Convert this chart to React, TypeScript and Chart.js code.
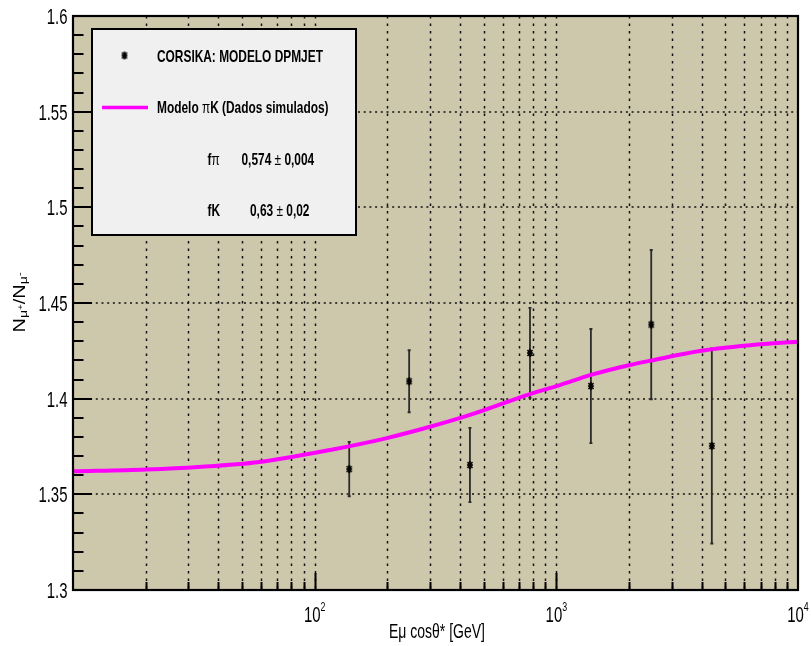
import React, { useEffect, useRef } from "react";
import { Chart, registerables } from "chart.js";

Chart.register(...registerables);

// CORSIKA (DPMJET) muon charge ratio per energy bin
const energyGeV = [139, 246, 439, 778, 1390, 2470, 4400];
const chargeRatio = [1.3632, 1.4091, 1.3653, 1.4239, 1.4066, 1.4387, 1.3753];
const ratioError = [0.0142, 0.0162, 0.0194, 0.0235, 0.0298, 0.039, 0.051];

// πK model (simulated data) curve
const modelEnergy = [10, 20, 33, 59, 116, 199, 300, 439, 778, 1035, 1390, 2014, 2460, 3926, 6950, 10000];
const modelRatio = [1.362, 1.363, 1.3643, 1.3669, 1.3732, 1.3794, 1.3853, 1.3915, 1.4024, 1.4071, 1.4124, 1.4176, 1.4199, 1.4249, 1.4284, 1.4298];

// axis ticks
const yMajorValues = [1.3, 1.35, 1.4, 1.45, 1.5, 1.55, 1.6];
const yMajorLabels = ["1.3", "1.35", "1.4", "1.45", "1.5", "1.55", "1.6"];
const xDecadeValues = [100, 1000, 10000];
const xDecadeExponents = ["2", "3", "4"];

// legend / fit text
const seriesLabel = "CORSIKA: MODELO DPMJET";
const modelLabelParts = ["Modelo ", "π", "K (Dados simulados)"];
const fitPiValue = ["0,574 ", "±", " 0,004"];
const fitKValue = ["0,63 ", "±", " 0,02"];

const FONT = "'Liberation Sans', Arial, Helvetica, sans-serif";
const KHAKI = "#cdc7ab";
const SQUEEZE = 0.68;

type Seg = { t: string; f: string; dy?: number };

function segsWidth(ctx: CanvasRenderingContext2D, segs: Seg[]) {
  let w = 0;
  for (const s of segs) {
    ctx.font = s.f;
    w += ctx.measureText(s.t).width;
  }
  return w;
}

function drawSegs(
  ctx: CanvasRenderingContext2D,
  segs: Seg[],
  x: number,
  y: number,
  align: "left" | "center" | "right",
  sx: number
) {
  ctx.save();
  const w = segsWidth(ctx, segs) * sx;
  const x0 = align === "center" ? x - w / 2 : align === "right" ? x - w : x;
  ctx.translate(x0, y);
  ctx.scale(sx, 1);
  ctx.textAlign = "left";
  ctx.textBaseline = "alphabetic";
  ctx.fillStyle = "#000";
  let cx = 0;
  for (const s of segs) {
    ctx.font = s.f;
    ctx.fillText(s.t, cx, s.dy || 0);
    cx += ctx.measureText(s.t).width;
  }
  ctx.restore();
}

function makeAsterisk(): HTMLCanvasElement {
  const c = document.createElement("canvas");
  c.width = 8;
  c.height = 10;
  const g = c.getContext("2d")!;
  g.strokeStyle = "#000";
  g.lineWidth = 1.6;
  g.beginPath();
  g.moveTo(4, 1); g.lineTo(4, 9);
  g.moveTo(1, 5); g.lineTo(7, 5);
  g.moveTo(1.5, 2); g.lineTo(6.5, 8);
  g.moveTo(6.5, 2); g.lineTo(1.5, 8);
  g.stroke();
  return c;
}

function makeRootStyle(marker: HTMLCanvasElement) {
  return {
    id: "rootStyle",
    beforeDraw(chart: any) {
      const { ctx, chartArea: a } = chart;
      ctx.save();
      ctx.fillStyle = "#fff";
      ctx.fillRect(0, 0, chart.width, chart.height);
      ctx.fillStyle = KHAKI;
      ctx.fillRect(a.left, a.top, a.right - a.left, a.bottom - a.top);
      ctx.restore();
    },
    beforeDatasetsDraw(chart: any) {
      const { ctx, chartArea: a, scales } = chart;
      const xs = scales.x, ys = scales.y;
      ctx.save();
      ctx.strokeStyle = "#111";
      // horizontal dotted grid
      ctx.lineWidth = 1.7;
      ctx.setLineDash([2, 3.7]);
      for (const v of yMajorValues.slice(1, -1)) {
        const y = Math.round(ys.getPixelForValue(v));
        ctx.beginPath();
        ctx.moveTo(a.left, y);
        ctx.lineTo(a.right, y);
        ctx.stroke();
      }
      // vertical dotted grid at every log tick
      ctx.lineWidth = 1.5;
      ctx.setLineDash([2.5, 5]);
      for (const d of [10, 100, 1000]) {
        for (let k = 1; k <= 9; k++) {
          const v = d * k;
          if (v <= 10) continue;
          const x = Math.round(xs.getPixelForValue(v)) + 0.5;
          ctx.beginPath();
          ctx.moveTo(x, a.top);
          ctx.lineTo(x, a.bottom);
          ctx.stroke();
        }
      }
      ctx.setLineDash([]);
      // error bars
      ctx.strokeStyle = "#2a2a2a";
      ctx.lineWidth = 1.8;
      energyGeV.forEach((e, i) => {
        const x = xs.getPixelForValue(e);
        const yTop = ys.getPixelForValue(chargeRatio[i] + ratioError[i]);
        const yBot = ys.getPixelForValue(chargeRatio[i] - ratioError[i]);
        ctx.beginPath();
        ctx.moveTo(x, yTop);
        ctx.lineTo(x, yBot);
        ctx.moveTo(x - 1.5, yTop);
        ctx.lineTo(x + 1.5, yTop);
        ctx.moveTo(x - 1.5, yBot);
        ctx.lineTo(x + 1.5, yBot);
        ctx.stroke();
      });
      ctx.restore();
    },
    afterDatasetsDraw(chart: any) {
      const { ctx, chartArea: a, scales } = chart;
      const xs = scales.x, ys = scales.y;
      ctx.save();
      ctx.strokeStyle = "#000";
      ctx.lineWidth = 2;
      // y ticks (inside, left edge)
      for (let i = 0; i <= 30; i++) {
        const v = 1.3 + i * 0.01;
        const y = Math.round(ys.getPixelForValue(v));
        const major = i % 5 === 0;
        ctx.beginPath();
        ctx.moveTo(a.left, y);
        ctx.lineTo(a.left + (major ? 19 : 10.5), y);
        ctx.stroke();
      }
      // x ticks (inside, bottom edge)
      for (const d of [10, 100, 1000]) {
        for (let k = 1; k <= 9; k++) {
          const v = d * k;
          if (v <= 10) continue;
          const x = Math.round(xs.getPixelForValue(v)) + 0.5;
          const major = k === 1;
          ctx.beginPath();
          ctx.moveTo(x, a.bottom);
          ctx.lineTo(x, a.bottom - (major ? 17 : 8));
          ctx.stroke();
        }
      }
      // frame
      ctx.lineWidth = 2.2;
      ctx.strokeRect(a.left, a.top, a.right - a.left, a.bottom - a.top);

      // y tick labels
      yMajorValues.forEach((v, i) => {
        const y = ys.getPixelForValue(v);
        drawSegs(ctx, [{ t: yMajorLabels[i], f: `22px ${FONT}` }], a.left - 5.5, y + 8, "right", SQUEEZE);
      });
      // x tick labels 10^n
      xDecadeValues.forEach((v, i) => {
        const x = xs.getPixelForValue(v);
        drawSegs(
          ctx,
          [
            { t: "10", f: `22px ${FONT}` },
            { t: xDecadeExponents[i], f: `13px ${FONT}`, dy: -11.5 },
          ],
          x,
          a.bottom + 32,
          "center",
          SQUEEZE
        );
      });
      // x title
      drawSegs(ctx, [{ t: "Eμ cosθ* [GeV]", f: `20px ${FONT}` }], 437, 638, "center", SQUEEZE + 0.02);

      // y title, rotated
      const ySegs: Seg[] = [
        { t: "N", f: `20px ${FONT}` },
        { t: "μ", f: `14px ${FONT}`, dy: 3 },
        { t: "+", f: `10px ${FONT}`, dy: -3 },
        { t: "/", f: `20px ${FONT}` },
        { t: "N", f: `20px ${FONT}` },
        { t: "μ", f: `14px ${FONT}`, dy: 3 },
        { t: "-", f: `11px ${FONT}`, dy: -3 },
      ];
      ctx.save();
      ctx.translate(25, 302.5);
      ctx.rotate(-Math.PI / 2);
      ctx.scale(1, 0.8);
      const tw = segsWidth(ctx, ySegs);
      ctx.fillStyle = "#000";
      ctx.textBaseline = "alphabetic";
      let cx = -tw / 2;
      for (const s of ySegs) {
        ctx.font = s.f;
        ctx.fillText(s.t, cx, s.dy || 0);
        cx += ctx.measureText(s.t).width;
      }
      ctx.restore();

      // legend box
      const lx = 92, ly = 29, lw = 264, lh = 206;
      ctx.fillStyle = "#f0f0f0";
      ctx.fillRect(lx, ly, lw, lh);
      ctx.lineWidth = 2;
      ctx.strokeStyle = "#000";
      ctx.strokeRect(lx, ly, lw, lh);

      ctx.drawImage(marker, 124.5 - marker.width / 2, 55.5 - marker.height / 2);
      const bold = `bold 17px ${FONT}`;
      const reg = `17px ${FONT}`;
      drawSegs(ctx, [{ t: seriesLabel, f: bold }], 157, 61.7, "left", 0.7);

      ctx.strokeStyle = "#ff00ff";
      ctx.lineWidth = 3.5;
      ctx.beginPath();
      ctx.moveTo(102, 107.5);
      ctx.lineTo(148, 107.5);
      ctx.stroke();
      drawSegs(
        ctx,
        [
          { t: modelLabelParts[0], f: bold },
          { t: modelLabelParts[1], f: reg },
          { t: modelLabelParts[2], f: bold },
        ],
        157,
        113.3,
        "left",
        0.7
      );

      drawSegs(ctx, [{ t: "f", f: bold }, { t: "π", f: reg }], 207.5, 165, "left", 0.7);
      drawSegs(
        ctx,
        [
          { t: fitPiValue[0], f: bold },
          { t: fitPiValue[1], f: reg },
          { t: fitPiValue[2], f: bold },
        ],
        241.5,
        165,
        "left",
        0.7
      );
      drawSegs(ctx, [{ t: "fK", f: bold }], 207.5, 216, "left", 0.7);
      drawSegs(
        ctx,
        [
          { t: fitKValue[0], f: bold },
          { t: fitKValue[1], f: reg },
          { t: fitKValue[2], f: bold },
        ],
        250,
        216,
        "left",
        0.7
      );
      ctx.restore();
    },
  };
}

export default function App() {
  const canvasRef = useRef<HTMLCanvasElement | null>(null);

  useEffect(() => {
    const canvas = canvasRef.current;
    if (!canvas) return;
    const marker = makeAsterisk();
    const chart = new Chart(canvas, {
      type: "scatter",
      data: {
        datasets: [
          {
            label: seriesLabel,
            data: energyGeV.map((e, i) => ({ x: e, y: chargeRatio[i] })),
            pointStyle: marker as any,
            pointRadius: 4,
            showLine: false,
          },
          {
            type: "line",
            label: modelLabelParts.join(""),
            data: modelEnergy.map((e, i) => ({ x: e, y: modelRatio[i] })),
            borderColor: "#ff00ff",
            borderWidth: 4,
            pointRadius: 0,
            cubicInterpolationMode: "monotone",
            fill: false,
          } as any,
        ],
      },
      options: {
        animation: false,
        responsive: false,
        devicePixelRatio: 1,
        events: [],
        layout: { padding: { left: 73, top: 16, right: 13, bottom: 56 } },
        scales: {
          x: { type: "logarithmic", min: 10, max: 10000, display: false },
          y: { type: "linear", min: 1.3, max: 1.6, display: false },
        },
        plugins: { legend: { display: false }, tooltip: { enabled: false } },
      },
      plugins: [makeRootStyle(marker)],
    });
    return () => chart.destroy();
  }, []);

  return (
    <div style={{ position: "absolute", left: 0, top: 0, width: 811, height: 646 }}>
      <canvas ref={canvasRef} width={811} height={646} style={{ display: "block" }} />
    </div>
  );
}
